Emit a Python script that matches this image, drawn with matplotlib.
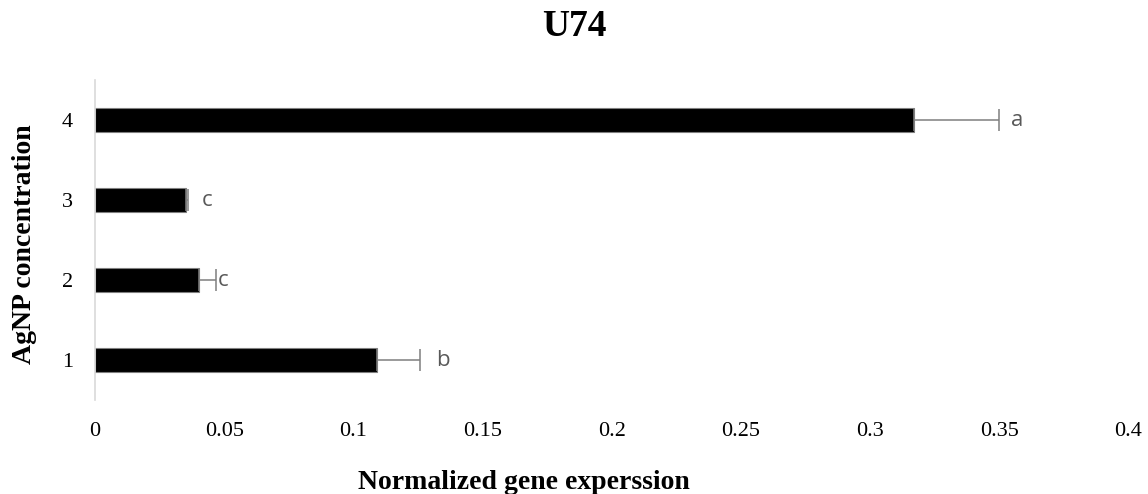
# U74 normalized gene expression vs AgNP concentration

import matplotlib
matplotlib.use("Agg")
import matplotlib.pyplot as plt

concentrations = ["1", "2", "3", "4"]
expression = [0.109, 0.0404, 0.0352, 0.317]
errors = [0.0168, 0.0064, 0.0008, 0.033]
letters = ["b", "c", "c", "a"]
letter_x = [0.1345, 0.0495, 0.0435, 0.357]
x_ticks = [0, 0.05, 0.1, 0.15, 0.2, 0.25, 0.3, 0.35, 0.4]
x_tick_labels = ["0", "0.05", "0.1", "0.15", "0.2", "0.25", "0.3", "0.35", "0.4"]

plt.rcParams["font.family"] = ["Liberation Serif", "DejaVu Serif"]

fig = plt.figure(figsize=(11.48, 4.94), dpi=100)
ax = fig.add_axes([0.0828, 0.19, 0.9, 0.648])

pos = list(range(1, len(concentrations) + 1))
ax.barh(pos, expression, height=0.3, color="black", edgecolor="#7f7f7f",
        linewidth=0.8, zorder=2)
ax.errorbar(expression, pos, xerr=[[0] * len(errors), errors], fmt="none",
            ecolor="#7f7f7f", elinewidth=1.1, capsize=8, capthick=1.1, zorder=3)

for p, lx, lt in zip(pos, letter_x, letters):
    ax.text(lx, p, lt, ha="center", va="center", fontsize=16,
            color="#595959", family=["Open Sans", "DejaVu Sans"])

ax.set_xlim(0, 0.4)
ax.set_ylim(0.5, 4.5)
ax.set_xticks(x_ticks)
ax.set_xticklabels(x_tick_labels, fontsize=16)
ax.set_yticks(pos)
ax.set_yticklabels(concentrations, fontsize=16)
ax.tick_params(axis="x", length=0, pad=16)
ax.tick_params(axis="y", length=0, pad=16)

for side in ["top", "right", "bottom"]:
    ax.spines[side].set_visible(False)
ax.spines["left"].set_color("#d9d9d9")
ax.spines["left"].set_linewidth(1.2)

fig.text(0.4564, 5.0 / 494, "Normalized gene experssion",
         ha="center", va="baseline", fontsize=20, fontweight="bold")
fig.text(25.0 / 1148, 0.506, "AgNP concentration", ha="center", va="center",
         rotation=90, fontsize=20, fontweight="bold")
fig.text(0.5, 0.947, "U74", ha="center", va="center", fontsize=27,
         fontweight="bold")

fig.savefig("out.png", dpi=100)
